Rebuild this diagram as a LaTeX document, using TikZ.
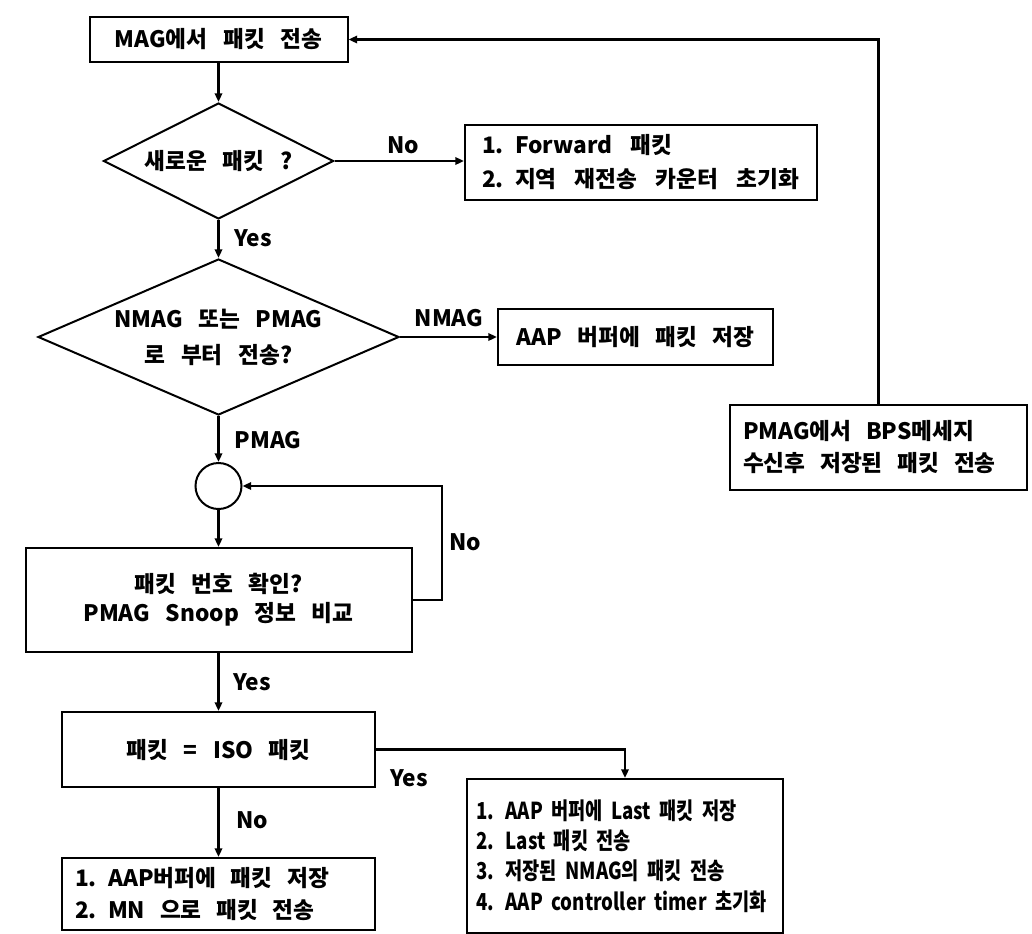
\documentclass[tikz,border=0pt]{standalone}
\usepackage{fontspec}
\setmainfont{Noto Sans CJK KR}[WordSpace=3]
\newfontfamily\narrowkr{Noto Sans CJK KR}[FakeStretch=0.8,WordSpace=2]
\usetikzlibrary{shapes.geometric,arrows.meta}
\begin{document}
\begin{tikzpicture}[x=0.75pt,y=-0.75pt,
  every node/.style={font=\fontsize{17}{23}\selectfont\bfseries},
  sz/.style 2 args={minimum width=#1*0.75pt,minimum height=#2*0.75pt},
  box/.style={draw,line width=1.5pt,inner sep=0pt},
  lbox/.style n args={3}{draw,line width=1.5pt,inner ysep=0pt,inner xsep=#3*0.75pt,
     text width=(#1-2*#3)*0.75pt,minimum height=#2*0.75pt,align=left,
     execute at begin node={\spaceskip=0.65em plus 0.1em\relax}},
  dia/.style={draw,diamond,line width=1.5pt,inner sep=0pt,align=center},
  arr/.style={line width=1.8pt,-{Triangle[length=6.5pt,width=5.5pt]}},
  lbl/.style={inner sep=0pt}
]
\useasboundingbox (0,0) rectangle (1032,933);

% nodes
\node[box,sz={258}{45}] (b1) at (218.5,39.5) {MAG에서 패킷 전송};
\node[dia,aspect=2,sz={230}{116}] (d1) at (218.5,161) {새로운 패킷 ?};
\node[lbox={352}{75}{17},font=\fontsize{17}{25}\selectfont\bfseries,
      execute at begin node={\spaceskip=0.8em plus 0.1em\relax}] (b2) at (641,162) {1. Forward 패킷\\2. 지역 재전송 카운터 초기화};
\node[dia,aspect=2.3,sz={361}{156},font=\fontsize{17}{27}\selectfont\bfseries] (d2) at (218.5,337) {NMAG 또는 PMAG\\로 부터 전송?};
\node[box,sz={275}{56}] (b3) at (635.5,337) {AAP 버퍼에 패킷 저장};
\node[lbox={297}{85}{13},font=\fontsize{17}{24}\selectfont\bfseries] (b4) at (878.5,447.5) {PMAG에서 BPS메세지\\수신후 저장된 패킷 전송};
\node[draw,circle,line width=1.5pt,minimum size=46*0.75pt,inner sep=0pt] (c) at (218.5,486) {};
\node[box,sz={386}{104},align=center,font=\fontsize{17}{22}\selectfont\bfseries] (b5) at (218.5,600) {패킷 번호 확인?\\PMAG Snoop 정보 비교};
\node[box,sz={313}{75}] (b6) at (218.5,749.5) {패킷 = ISO 패킷};
\node[lbox={313}{72}{13},font=\fontsize{17}{24}\selectfont\bfseries] (b7) at (218.5,894) {1. AAP버퍼에 패킷 저장\\2. MN 으로 패킷 전송};
\node[lbox={316}{154}{9},font=\narrowkr\fontsize{17.5}{22.7}\selectfont\bfseries,
      execute at begin node={\spaceskip=0.36em plus 0.1em\relax}] (b8) at (625,856) {1. AAP 버퍼에 Last 패킷 저장\\2. Last 패킷 전송\\3. 저장된 NMAG의 패킷 전송\\4. AAP controller timer 초기화};

% labels
\node[lbl] (l1) at (403,145) {No};
\node[lbl] (l2) at (253,238) {Yes};
\node[lbl] (l3) at (449,318) {NMAG};
\node[lbl] (l4) at (268,440) {PMAG};
\node[lbl] (l5) at (465,542) {No};
\node[lbl] (l6) at (252,682) {Yes};
\node[lbl] (l7) at (409,778) {Yes};
\node[lbl] (l8) at (252,820) {No};

\coordinate (lp) at (442,486);

% connectors
\draw[arr] (b1) -- (d1);
\draw[arr] (d1.east) -- (d1.east -| b2.west);
\draw[arr] (d1) -- (d2);
\draw[arr] (d2.east) -- (d2.east -| b3.west);
\draw[arr] (d2) -- (c);
\draw[arr] (c) -- (b5);
\draw[arr] (b5.east) -| (lp) -- (c.east);
\draw[arr] (b5) -- (b6);
\draw[arr] (b6.east) -| (b8.north);
\draw[arr] (b6) -- (b7);
\draw[arr] (b4.north) |- (b1.east);
\end{tikzpicture}
\end{document}
